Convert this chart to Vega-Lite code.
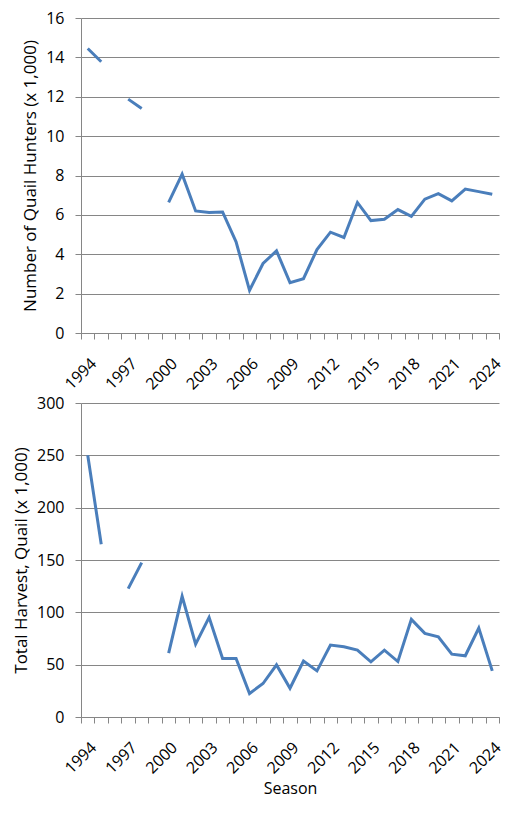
{
  "$schema": "https://vega.github.io/schema/vega-lite/v6.json",
  "background": "white",
  "padding": {"left": 12, "top": 10, "right": 25, "bottom": 5},
  "data": {
    "values": [
      {"Season": 1994, "Hunters": 14.45, "Harvest": 250},
      {"Season": 1995, "Hunters": 13.78, "Harvest": 165},
      {"Season": 1996, "Hunters": null, "Harvest": null},
      {"Season": 1997, "Hunters": 11.88, "Harvest": 122.6},
      {"Season": 1998, "Hunters": 11.4, "Harvest": 147.5},
      {"Season": 1999, "Hunters": null, "Harvest": null},
      {"Season": 2000, "Hunters": 6.63, "Harvest": 61},
      {"Season": 2001, "Hunters": 8.07, "Harvest": 115.3},
      {"Season": 2002, "Hunters": 6.2, "Harvest": 69.6},
      {"Season": 2003, "Hunters": 6.12, "Harvest": 95.2},
      {"Season": 2004, "Hunters": 6.15, "Harvest": 55.9},
      {"Season": 2005, "Hunters": 4.63, "Harvest": 55.9},
      {"Season": 2006, "Hunters": 2.17, "Harvest": 22.4},
      {"Season": 2007, "Hunters": 3.53, "Harvest": 32},
      {"Season": 2008, "Hunters": 4.17, "Harvest": 49.8},
      {"Season": 2009, "Hunters": 2.56, "Harvest": 27.5},
      {"Season": 2010, "Hunters": 2.76, "Harvest": 53.4},
      {"Season": 2011, "Hunters": 4.24, "Harvest": 44.1},
      {"Season": 2012, "Hunters": 5.12, "Harvest": 68.7},
      {"Season": 2013, "Hunters": 4.85, "Harvest": 67.1},
      {"Season": 2014, "Hunters": 6.63, "Harvest": 63.9},
      {"Season": 2015, "Hunters": 5.71, "Harvest": 52.7},
      {"Season": 2016, "Hunters": 5.78, "Harvest": 63.9},
      {"Season": 2017, "Hunters": 6.27, "Harvest": 53},
      {"Season": 2018, "Hunters": 5.92, "Harvest": 93.3},
      {"Season": 2019, "Hunters": 6.8, "Harvest": 79.9},
      {"Season": 2020, "Hunters": 7.08, "Harvest": 76.7},
      {"Season": 2021, "Hunters": 6.71, "Harvest": 60},
      {"Season": 2022, "Hunters": 7.31, "Harvest": 58.5},
      {"Season": 2023, "Hunters": 7.18, "Harvest": 85},
      {"Season": 2024, "Hunters": 7.05, "Harvest": 44.1}
    ]
  },
  "spacing": 2,
  "vconcat": [
    {
      "width": 418,
      "height": 315,
      "mark": {"type": "line", "color": "#4a7ebb", "strokeWidth": 3, "invalid": "break-paths-show-domains"},
      "encoding": {
        "x": {
          "field": "Season",
          "type": "ordinal",
          "bandPosition": 0.5,
          "scale": {"type": "band", "paddingInner": 0, "paddingOuter": 0},
          "axis": {"title": null}
        },
        "y": {
          "field": "Hunters",
          "type": "quantitative",
          "scale": {"domain": [0, 16]},
          "axis": {"values": [0, 2, 4, 6, 8, 10, 12, 14, 16], "title": "Number of Quail Hunters (x 1,000)"}
        }
      }
    },
    {
      "width": 418,
      "height": 314,
      "mark": {"type": "line", "color": "#4a7ebb", "strokeWidth": 3, "invalid": "break-paths-show-domains"},
      "encoding": {
        "x": {
          "field": "Season",
          "type": "ordinal",
          "bandPosition": 0.5,
          "scale": {"type": "band", "paddingInner": 0, "paddingOuter": 0},
          "axis": {"title": "Season"}
        },
        "y": {
          "field": "Harvest",
          "type": "quantitative",
          "scale": {"domain": [0, 300]},
          "axis": {"values": [0, 50, 100, 150, 200, 250, 300], "title": "Total Harvest, Quail (x 1,000)"}
        }
      }
    }
  ],
  "config": {
    "view": {"stroke": null},
    "axis": {
      "labelFont": "Open Sans",
      "labelFontSize": 16,
      "labelColor": "#000000",
      "titleFont": "Open Sans",
      "titleFontSize": 16,
      "titleFontWeight": "normal",
      "titleColor": "#000000",
      "domainColor": "#868686",
      "gridColor": "#868686",
      "gridOpacity": 1
    },
    "axisX": {
      "grid": false,
      "ticks": true,
      "tickBand": "extent",
      "tickSize": 6,
      "tickWidth": 1,
      "tickColor": "#868686",
      "labelAngle": -45,
      "labelAlign": "right",
      "labelBaseline": "top",
      "labelPadding": 16,
      "labelDx": 3,
      "labelOverlap": false,
      "labelExpr": "datum.value % 3 === 2 ? datum.value : ''",
      "titlePadding": 4
    },
    "axisY": {
      "grid": true,
      "ticks": true,
      "tickSize": 6,
      "tickWidth": 1,
      "tickColor": "#868686",
      "labelPadding": 11,
      "titleFontSize": 17,
      "titlePadding": 6
    }
  }
}
